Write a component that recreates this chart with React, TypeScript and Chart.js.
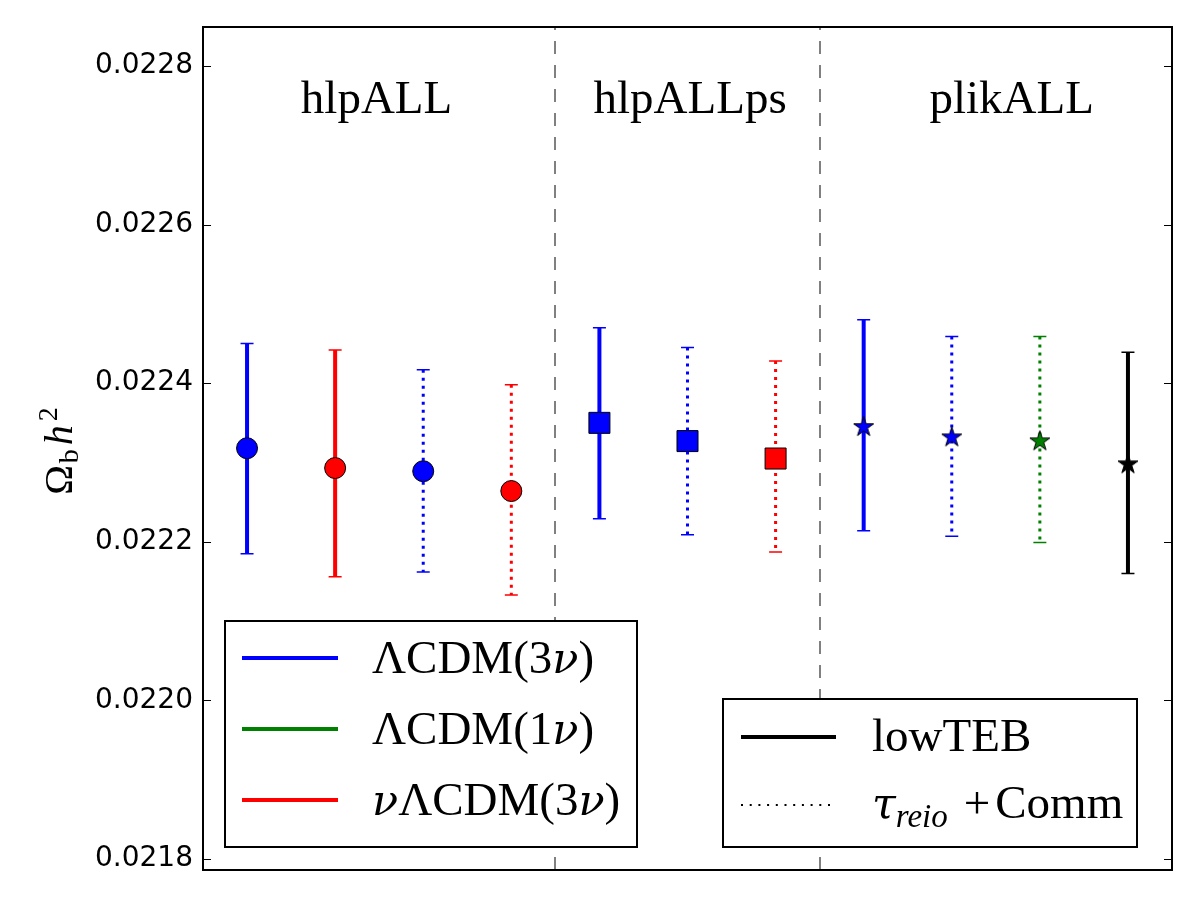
import React, { useEffect, useRef } from 'react';
import { Chart, registerables } from 'chart.js';

Chart.register(...registerables);

// ---- Data ----
const groupNames = ['hlpALL', 'hlpALLps', 'plikALL'];
const likelihoods = [
  'hlpALL', 'hlpALL', 'hlpALL', 'hlpALL',
  'hlpALLps', 'hlpALLps', 'hlpALLps',
  'plikALL', 'plikALL', 'plikALL', 'plikALL',
];
const models = [
  'ΛCDM(3ν)', 'νΛCDM(3ν)', 'ΛCDM(3ν)', 'νΛCDM(3ν)',
  'ΛCDM(3ν)', 'ΛCDM(3ν)', 'νΛCDM(3ν)',
  'ΛCDM(3ν)', 'ΛCDM(3ν)', 'ΛCDM(1ν)', 'reference',
];
const priors = [
  'lowTEB', 'lowTEB', 'τreio+Comm', 'τreio+Comm',
  'lowTEB', 'τreio+Comm', 'τreio+Comm',
  'lowTEB', 'τreio+Comm', 'τreio+Comm', 'lowTEB',
];
const centers = [
  0.022318, 0.022293, 0.022289, 0.022264,
  0.02235, 0.022327, 0.022305,
  0.022346, 0.022333, 0.022328, 0.022299,
];
const upper = [
  0.02245, 0.022442, 0.022417, 0.022398,
  0.02247, 0.022445, 0.022428,
  0.02248, 0.022459, 0.022459, 0.022439,
];
const lower = [
  0.022185, 0.022156, 0.022162, 0.022133,
  0.022229, 0.022209, 0.022187,
  0.022214, 0.022207, 0.022199, 0.02216,
];
const yTickValues = [0.0218, 0.022, 0.0222, 0.0224, 0.0226, 0.0228];
const legendModels = ['ΛCDM(3ν)', 'ΛCDM(1ν)', 'νΛCDM(3ν)'];
const legendPriors = ['lowTEB', 'τreio+Comm'];

// ---- Styling ----
const SERIF = '"Liberation Serif", "Times New Roman", serif';
const GREEK = '"DejaVu Serif", serif';
const modelColor: Record<string, string> = {
  'ΛCDM(3ν)': '#0000ff',
  'ΛCDM(1ν)': '#008000',
  'νΛCDM(3ν)': '#ff0000',
  reference: '#000000',
};
const groupLabelX = [1.47, 5.03, 8.68];

type Part = { t?: string; f?: string; dy?: number; gap?: number };

function drawRich(ctx: CanvasRenderingContext2D, parts: Part[], x: number, y: number, align: 'left' | 'center' = 'left') {
  const widths = parts.map((p) => {
    if (p.gap !== undefined) return p.gap;
    ctx.font = p.f as string;
    return ctx.measureText(p.t as string).width;
  });
  const total = widths.reduce((a, b) => a + b, 0);
  let cx = align === 'center' ? x - total / 2 : x;
  ctx.textAlign = 'left';
  ctx.textBaseline = 'alphabetic';
  parts.forEach((p, i) => {
    if (p.gap === undefined) {
      ctx.font = p.f as string;
      ctx.fillText(p.t as string, cx, y + (p.dy || 0));
    }
    cx += widths[i];
  });
}

function modelParts(name: string, size: number): Part[] {
  const up = `${size}px ${SERIF}`;
  const it = `italic ${Math.round(size * 0.92)}px ${GREEK}`;
  const out: Part[] = [];
  let buf = '';
  for (const ch of name) {
    if (ch === 'ν') {
      if (buf) out.push({ t: buf, f: up });
      buf = '';
      out.push({ t: 'ν', f: it });
    } else buf += ch;
  }
  if (buf) out.push({ t: buf, f: up });
  return out;
}

function makeStar(color: string): HTMLCanvasElement {
  const R = 10.5;
  const r = R * 0.382;
  const size = 26;
  const c = document.createElement('canvas');
  c.width = size;
  c.height = size;
  const g = c.getContext('2d') as CanvasRenderingContext2D;
  g.translate(size / 2, size / 2 + 1);
  g.beginPath();
  for (let k = 0; k < 10; k++) {
    const rad = k % 2 === 0 ? R : r;
    const a = -Math.PI / 2 + (k * Math.PI) / 5;
    const px = rad * Math.cos(a);
    const py = rad * Math.sin(a);
    if (k === 0) g.moveTo(px, py);
    else g.lineTo(px, py);
  }
  g.closePath();
  g.fillStyle = color;
  g.fill();
  g.lineWidth = 1;
  g.strokeStyle = '#000';
  g.stroke();
  return c;
}

export default function App() {
  const ref = useRef<HTMLCanvasElement | null>(null);

  useEffect(() => {
    if (!ref.current) return;
    const colors = models.map((m) => modelColor[m]);
    const styles = likelihoods.map((l, i) => {
      if (l === 'hlpALL') return 'circle';
      if (l === 'hlpALLps') return 'rect';
      return makeStar(colors[i]);
    });
    const radii = likelihoods.map((l) => (l === 'hlpALL' ? 10.5 : l === 'hlpALLps' ? 14.85 : 10));

    const separators: number[] = [];
    for (let i = 1; i < likelihoods.length; i++) {
      if (likelihoods[i] !== likelihoods[i - 1]) separators.push(i - 0.5);
    }

    const errorBars = {
      id: 'errorBars',
      beforeDatasetsDraw(chart: any) {
        const { ctx, chartArea, scales } = chart;
        const xs = scales.x;
        const ys = scales.y;
        ctx.save();
        // group separators
        ctx.strokeStyle = '#808080';
        ctx.lineWidth = 2;
        ctx.setLineDash([13, 11]);
        separators.forEach((s) => {
          const px = Math.round(xs.getPixelForValue(s));
          ctx.beginPath();
          ctx.moveTo(px, chartArea.bottom);
          ctx.lineTo(px, chartArea.top);
          ctx.stroke();
        });
        // error bars
        centers.forEach((_, i) => {
          const px = xs.getPixelForValue(i);
          const yt = ys.getPixelForValue(upper[i]);
          const yb = ys.getPixelForValue(lower[i]);
          const dotted = priors[i] !== 'lowTEB';
          ctx.strokeStyle = colors[i];
          ctx.lineCap = 'butt';
          ctx.lineWidth = dotted ? 3 : 4;
          ctx.setLineDash(dotted ? [3, 5] : []);
          ctx.beginPath();
          ctx.moveTo(px, yt);
          ctx.lineTo(px, yb);
          ctx.stroke();
          ctx.setLineDash([]);
          ctx.lineWidth = 1.5;
          ctx.beginPath();
          ctx.moveTo(px - 6.5, yt);
          ctx.lineTo(px + 6.5, yt);
          ctx.moveTo(px - 6.5, yb);
          ctx.lineTo(px + 6.5, yb);
          ctx.stroke();
        });
        ctx.restore();
      },
      afterDraw(chart: any) {
        const { ctx, chartArea, scales } = chart;
        const xs = scales.x;
        const ys = scales.y;
        ctx.save();
        // frame
        ctx.strokeStyle = '#000';
        ctx.lineWidth = 2;
        ctx.setLineDash([]);
        ctx.strokeRect(chartArea.left, chartArea.top, chartArea.right - chartArea.left, chartArea.bottom - chartArea.top);
        // inward ticks
        ctx.lineWidth = 1;
        ys.ticks.forEach((t: any) => {
          const py = Math.round(ys.getPixelForValue(t.value)) + 0.5;
          ctx.beginPath();
          ctx.moveTo(chartArea.left, py);
          ctx.lineTo(chartArea.left + 8, py);
          ctx.moveTo(chartArea.right, py);
          ctx.lineTo(chartArea.right - 8, py);
          ctx.stroke();
        });
        // group labels
        ctx.fillStyle = '#000';
        groupNames.forEach((g, i) => {
          drawRich(ctx, [{ t: g, f: `47px ${SERIF}` }], xs.getPixelForValue(groupLabelX[i]), chartArea.top + 86, 'center');
        });
        // y axis title
        ctx.save();
        ctx.translate(72, 451);
        ctx.rotate(-Math.PI / 2);
        drawRich(
          ctx,
          [
            { t: 'Ω', f: `40px ${SERIF}` },
            { gap: 2 },
            { t: 'b', f: `28px ${SERIF}`, dy: 6 },
            { gap: 4 },
            { t: 'h', f: `italic 40px ${SERIF}` },
            { gap: 4 },
            { t: '2', f: `28px ${SERIF}`, dy: -15 },
          ],
          0,
          0,
          'center'
        );
        ctx.restore();

        // legend 1 (models)
        ctx.fillStyle = '#fff';
        ctx.fillRect(225, 621, 412, 226);
        ctx.strokeStyle = '#000';
        ctx.lineWidth = 2;
        ctx.strokeRect(225, 621, 412, 226);
        legendModels.forEach((m, i) => {
          const ly = 658 + i * 71;
          ctx.strokeStyle = modelColor[m];
          ctx.lineWidth = 4;
          ctx.beginPath();
          ctx.moveTo(242, ly);
          ctx.lineTo(338, ly);
          ctx.stroke();
          ctx.fillStyle = '#000';
          drawRich(ctx, modelParts(m, 47), 372, ly + 15);
        });

        // legend 2 (priors)
        ctx.fillStyle = '#fff';
        ctx.fillRect(723, 699, 414, 148);
        ctx.strokeStyle = '#000';
        ctx.lineWidth = 2;
        ctx.strokeRect(723, 699, 414, 148);
        legendPriors.forEach((p, i) => {
          const ly = 737 + i * 68;
          ctx.strokeStyle = '#000';
          if (p === 'lowTEB') {
            ctx.lineWidth = 4;
            ctx.setLineDash([]);
          } else {
            ctx.lineWidth = 2;
            ctx.setLineDash([2, 6.7]);
          }
          ctx.beginPath();
          ctx.moveTo(741, ly);
          ctx.lineTo(836, ly);
          ctx.stroke();
          ctx.setLineDash([]);
          ctx.fillStyle = '#000';
          if (p === 'lowTEB') {
            drawRich(ctx, [{ t: 'lowTEB', f: `47px ${SERIF}` }], 872, ly + 14);
          } else {
            drawRich(
              ctx,
              [
                { t: 'τ', f: `italic 43px ${GREEK}` },
                { t: 'reio', f: `italic 33px ${SERIF}`, dy: 9 },
                { gap: 16 },
                { t: '+', f: `47px ${SERIF}` },
                { gap: 5 },
                { t: 'Comm', f: `47px ${SERIF}` },
              ],
              872,
              ly + 13
            );
          }
        });
        ctx.restore();
      },
    };

    const chart = new Chart(ref.current, {
      type: 'scatter',
      data: {
        datasets: [
          {
            label: 'Ωb h²',
            data: centers.map((y, i) => ({ x: i, y })),
            pointStyle: styles as any,
            pointRadius: radii,
            pointBackgroundColor: colors,
            pointBorderColor: '#000',
            pointBorderWidth: 1,
            showLine: false,
          } as any,
        ],
      },
      options: {
        animation: false,
        responsive: false,
        layout: { padding: { top: 27, right: 28, bottom: 30, left: 0 } },
        plugins: { legend: { display: false }, tooltip: { enabled: false } },
        scales: {
          x: { type: 'linear', min: -0.5, max: 10.5, display: false },
          y: {
            type: 'linear',
            min: 0.0217861,
            max: 0.0228492,
            afterFit: (s: any) => {
              s.width = 203;
            },
            afterBuildTicks: (s: any) => {
              s.ticks = yTickValues.map((v) => ({ value: v }));
            },
            grid: { display: false, drawTicks: false },
            border: { display: false },
            ticks: {
              padding: 10,
              color: '#000',
              font: { family: '"DejaVu Sans"', size: 28 },
              callback: (v: any) => Number(v).toFixed(4),
            },
          },
        },
      },
      plugins: [errorBars],
    } as any);
    return () => chart.destroy();
  }, []);

  return (
    <div style={{ position: 'absolute', left: 0, top: 0, width: 1200, height: 900 }}>
      <canvas ref={ref} width={1200} height={900} style={{ display: 'block' }} />
    </div>
  );
}
